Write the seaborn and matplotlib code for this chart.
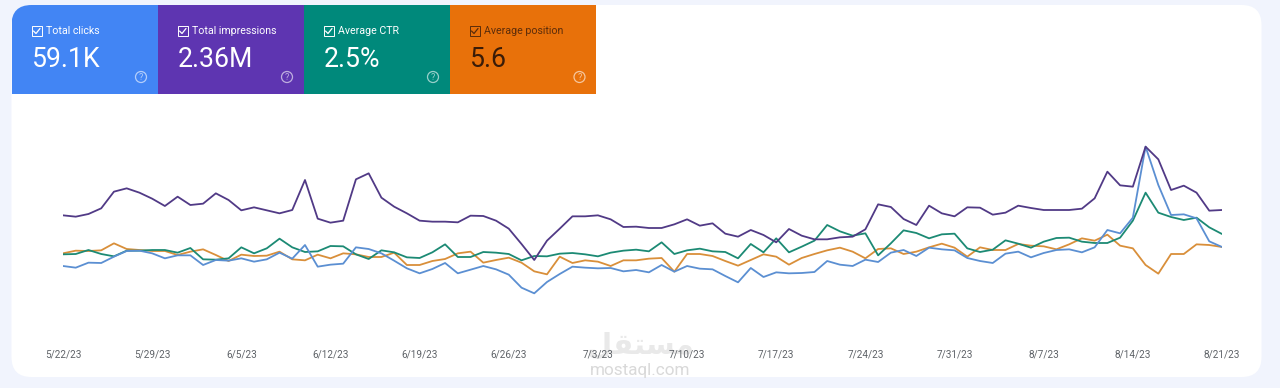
import pandas as pd
import seaborn as sns
import matplotlib
matplotlib.use("Agg")
import matplotlib.pyplot as plt
from matplotlib.patches import FancyBboxPatch, Rectangle, Circle

tick_labels = ["5/22/23", "5/29/23", "6/5/23", "6/12/23", "6/19/23", "6/26/23", "7/3/23",
               "7/10/23", "7/17/23", "7/24/23", "7/31/23", "8/7/23", "8/14/23", "8/21/23"]

# relative heights, the chart has no y scale
clicks = [192, 187, 202, 201, 220, 237, 238, 230, 215, 224, 224, 195, 210, 208, 215, 205, 212, 232, 214, 255,
          190, 196, 199, 248, 243, 230, 208, 185, 170, 183,
          201, 170, 181, 192, 182, 166, 127, 110, 144, 168, 190, 187, 185, 186, 176, 180, 173, 195, 175, 192,
          184, 182, 162, 143, 186, 159, 173, 170, 171, 174, 207,
          196, 192, 211, 204, 232, 240, 222, 247, 242, 239, 216, 207, 201, 229, 235, 218, 231, 240, 242,
          233, 248, 300, 290, 337, 550, 435, 345, 347, 335, 266, 249]
impressions = [344, 340, 348, 365, 415, 425, 412, 394, 372, 400, 375, 379, 410, 390, 359, 368, 359, 350, 360, 450,
               334, 322, 328, 452, 470, 397, 370, 350, 328, 325,
               325, 323, 343, 342, 328, 304, 258, 210, 268, 304, 341, 341, 344, 332, 309, 310, 306, 306, 317, 332,
               313, 320, 289, 280, 300, 285, 263, 303, 283, 272, 272,
               278, 280, 302, 377, 369, 333, 315, 373, 350, 341, 368, 367, 346, 352, 373, 366, 360, 360, 360,
               364, 395, 475, 434, 430, 550, 512, 420, 433, 412, 358, 360]
ctr = [227, 228, 240, 228, 221, 238, 238, 240, 240, 232, 246, 212, 211, 215, 248, 230, 245, 274, 248, 234,
       236, 252, 251, 227, 213, 239, 233, 218, 216, 233,
       257, 219, 219, 234, 232, 228, 209, 222, 221, 229, 231, 227, 221, 232, 238, 241, 236, 263, 228, 239,
       244, 236, 234, 215, 258, 233, 275, 233, 250, 268, 315,
       296, 283, 290, 224, 260, 299, 291, 275, 287, 289, 245, 234, 241, 269, 259, 247, 265, 276, 277,
       265, 261, 261, 277, 328, 412, 352, 339, 330, 337, 308, 288]
position = [230, 238, 237, 239, 260, 243, 240, 237, 237, 225, 235, 242, 225, 207, 226, 222, 223, 235, 212, 209,
            226, 215, 230, 227, 219, 219, 232, 195, 195, 207,
            213, 230, 235, 202, 210, 217, 202, 176, 167, 220, 201, 209, 205, 192, 209, 209, 214, 216, 175, 228,
            228, 222, 207, 193, 210, 227, 220, 196, 216, 228, 239,
            247, 235, 215, 243, 245, 228, 235, 248, 259, 247, 220, 248, 240, 240, 258, 253, 251, 242, 257,
            275, 268, 286, 253, 245, 195, 169, 228, 228, 257, 255, 249]

card_titles = ["Total clicks", "Total impressions", "Average CTR", "Average position"]
card_values = ["59.1K", "2.36M", "2.5%", "5.6"]
card_colors = ["#4285f4", "#5e35b1", "#00897b", "#e8710a"]
card_edges = [11.5, 157.5, 303.5, 449.5, 596]
card_text = ["white", "white", "white", "#3a1c08"]
card_title_text = ["white", "white", "white", "#5b2c0a"]
line_colors = {"position": "#d98f3a", "ctr": "#1c8a74", "clicks": "#5b8fd2", "impressions": "#513a86"}

dates = pd.date_range("2023-05-22", "2023-08-21", freq="D")
df = pd.DataFrame({"date": dates, "position": position, "ctr": ctr, "clicks": clicks, "impressions": impressions})
df = df.melt(id_vars="date", var_name="metric", value_name="value")

sns.set_theme(style="white")
plt.rcParams["font.family"] = ["Roboto", "DejaVu Sans"]

W, H = 1280, 388
fig = plt.figure(figsize=(12.8, 3.88), dpi=100, facecolor="#f1f4fd")

# page layer in pixel coordinates
bg = fig.add_axes([0, 0, 1, 1])
bg.set_xlim(0, W)
bg.set_ylim(H, 0)
bg.axis("off")

card = FancyBboxPatch((11.5 + 20, 5 + 20), 1250 - 40, 372 - 40, boxstyle="round,pad=20,rounding_size=20",
                      fc="white", ec="none")
bg.add_patch(card)

for i in range(4):
    left = card_edges[i]
    right = card_edges[i + 1]
    r = Rectangle((left, 5), right - left, 89, fc=card_colors[i], ec="none")
    bg.add_patch(r)
    r.set_clip_path(card)
    bg.add_patch(Rectangle((left + 20, 26), 10, 10, fc="none", ec=card_title_text[i], lw=0.7))
    bg.plot([left + 22, left + 24.5, left + 28.5], [31, 33.5, 28.5], color=card_title_text[i], lw=0.9)
    bg.text(left + 35, 31, card_titles[i], color=card_title_text[i], fontsize=7.7, va="center", ha="left")
    bg.text(left + 20, 59.5, card_values[i], color=card_text[i], fontsize=19.2, va="center", ha="left")
    bg.add_patch(Circle((right - 16.5, 77), 5.5, fc="none", ec="white", lw=0.9, alpha=0.6))
    bg.text(right - 16.5, 77, "?", color="white", alpha=0.6, fontsize=6.5, va="center", ha="center")

# watermark
bg.text(640, 346, "\ufede\ufed8\ufe98\ufeb4\ufee3", family="DejaVu Sans", fontsize=21, fontweight="bold",
        color="#e9e9e9", ha="center", va="center")
bg.text(640, 371, "mostaql.com", color="#d9d9d9", fontsize=12.3, ha="center", va="center")

# chart layer, the plot area runs from x=63 to x=1222 and y=130 to y=330
ax = fig.add_axes([63 / W, 1 - 330 / H, (1222 - 63) / W, 200 / H])
ax.patch.set_alpha(0)
sns.lineplot(data=df, x="date", y="value", hue="metric", palette=line_colors,
             hue_order=list(line_colors), linewidth=1.3, legend=False, ax=ax)
ax.set_xlim(dates[0], dates[-1])
ax.set_ylim(0, 600)
ax.set_xlabel("")
ax.set_ylabel("")
ax.set_yticks([])
ax.set_xticks(dates[::7])
ax.set_xticklabels(tick_labels, fontsize=7.2, color="#5f6368")
ax.tick_params(axis="x", length=0, pad=14)
sns.despine(ax=ax, left=True, bottom=True)

plt.savefig("out.png", dpi=100, facecolor=fig.get_facecolor())
